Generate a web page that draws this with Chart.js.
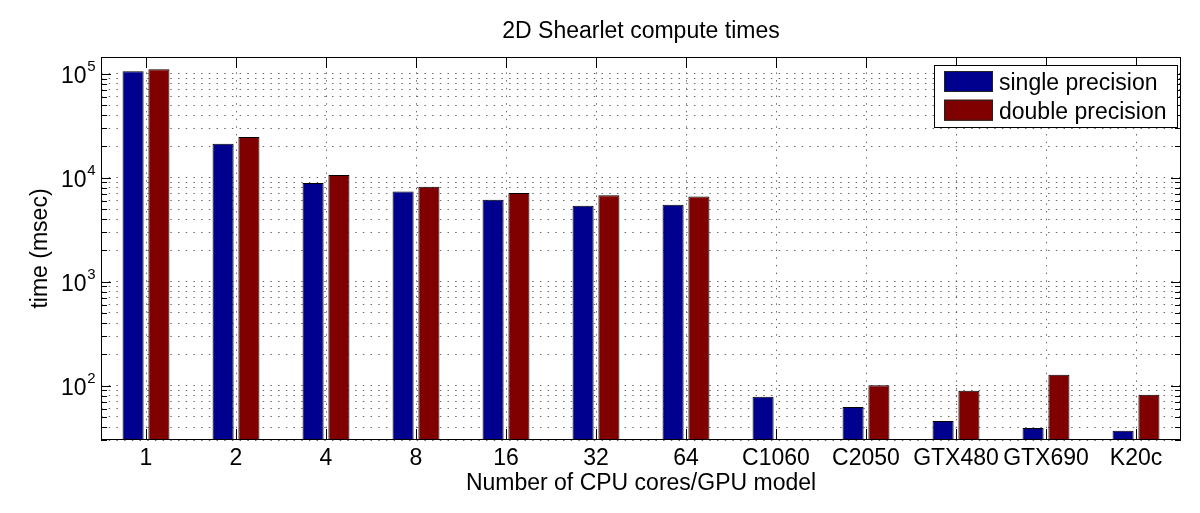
<!DOCTYPE html>
<html><head><meta charset="utf-8">
<script src="https://cdn.jsdelivr.net/npm/chart.js@4.4.1/dist/chart.umd.min.js"></script>
<style>html,body{margin:0;padding:0;background:#fff}#wrap{width:1200px;height:513px;position:relative}</style>
</head><body><div id="wrap"><canvas id="c"></canvas></div>
<script>
const categories = ['1','2','4','8','16','32','64','C1060','C2050','GTX480','GTX690','K20c'];
const singlePrecision = [106000, 21200, 8900, 7380, 6140, 5380, 5500, 78.3, 62.4, 45.7, 39.2, 36.9];
const doublePrecision = [110500, 24600, 10600, 8180, 7120, 6770, 6610, null, 100.7, 89.5, 127.6, 81.9];
const yMajorTicks = [100, 1000, 10000, 100000];
const yMinorMultipliers = [2, 3, 4, 5, 6, 7, 8, 9];
const yMin = 30, yMax = 145000;
const chartTitle = '2D Shearlet compute times';
const FONT = '"Liberation Sans", Arial, Helvetica, sans-serif';
const BLUE = '#00008f', RED = '#800000';

function buildYTicks() {
  const out = [];
  const decades = [10].concat(yMajorTicks);
  decades.forEach(d => {
    if (d >= yMin && d <= yMax) out.push({value: d, major: yMajorTicks.includes(d)});
    yMinorMultipliers.forEach(m => { const v = m * d; if (v >= yMin && v <= yMax) out.push({value: v, major: false}); });
  });
  return out.sort((a, b) => a.value - b.value);
}

const overlayPlugin = {
  id: 'overlay',
  afterDatasetsDraw(chart) {
    const {ctx, chartArea: a, scales: {x, y}} = chart;
    ctx.save();
    ctx.strokeStyle = '#000';
    ctx.lineWidth = 1;
    ctx.beginPath();
    x.ticks.forEach((t, i) => {
      const px = Math.round(x.getPixelForTick(i)) + 0.5;
      ctx.moveTo(px, a.top); ctx.lineTo(px, a.top + 11);
      ctx.moveTo(px, a.bottom); ctx.lineTo(px, a.bottom - 11);
    });
    y.ticks.forEach(t => {
      const py = Math.round(y.getPixelForValue(t.value)) + 0.5;
      const len = t.major ? 10 : 6;
      ctx.moveTo(a.left, py); ctx.lineTo(a.left + len, py);
      ctx.moveTo(a.right, py); ctx.lineTo(a.right - len, py);
    });
    ctx.stroke();
    ctx.strokeRect(Math.round(a.left) + 0.5, Math.round(a.top) + 0.5, Math.round(a.right - a.left) - 1, Math.round(a.bottom - a.top) - 1);

    // title centred over the plot area
    ctx.fillStyle = '#000';
    ctx.textAlign = 'center';
    ctx.textBaseline = 'alphabetic';
    ctx.font = '23px ' + FONT;
    ctx.fillText(chartTitle, (a.left + a.right) / 2, 38);

    // y tick labels with superscript exponents
    ctx.textAlign = 'right';
    yMajorTicks.forEach(v => {
      if (v < yMin || v > yMax) return;
      const py = y.getPixelForValue(v);
      const exp = String(Math.round(Math.log10(v)));
      const xr = a.left - 5.5;
      ctx.font = '15px ' + FONT;
      const ew = ctx.measureText(exp).width;
      ctx.fillText(exp, xr, py - 2.3);
      ctx.font = '23px ' + FONT;
      ctx.fillText('10', xr - ew - 0.5, py + 9.3);
    });

    // legend
    const lw = 243, lh = 62;
    const lx = Math.round(a.right) - 4 - lw, ly = Math.round(a.top) + 8;
    ctx.fillStyle = '#fff';
    ctx.fillRect(lx, ly, lw, lh);
    ctx.strokeStyle = '#000';
    ctx.strokeRect(lx + 0.5, ly + 0.5, lw, lh);
    ctx.font = '23px ' + FONT;
    ctx.textAlign = 'left';
    chart.data.datasets.forEach((ds, i) => {
      const ry = ly + 6 + i * 28.7;
      ctx.fillStyle = ds.backgroundColor;
      ctx.fillRect(lx + 10, ry, 49, 21);
      ctx.strokeStyle = '#222';
      ctx.strokeRect(lx + 10.5, ry + 0.5, 48, 20);
      ctx.fillStyle = '#000';
      ctx.fillText(ds.label, lx + 65, ly + 25 + i * 29);
    });
    ctx.restore();
  }
};

const dotted = [1.5, 6.2];
new Chart(document.getElementById('c'), {
  type: 'bar',
  data: {
    labels: categories,
    datasets: [
      {label: 'single precision', data: singlePrecision, backgroundColor: BLUE, borderColor: '#000', borderWidth: 1, borderSkipped: 'start'},
      {label: 'double precision', data: doublePrecision, backgroundColor: RED, borderColor: '#000', borderWidth: 1, borderSkipped: 'start'}
    ]
  },
  options: {
    responsive: true,
    maintainAspectRatio: false,
    animation: false,
    devicePixelRatio: 1,
    datasets: {bar: {categoryPercentage: 0.574, barPercentage: 0.815}},
    layout: {padding: {left: 0, right: 19, top: 57, bottom: 0}},
    plugins: {
      legend: {display: false},
      tooltip: {enabled: false},
      title: {display: false}
    },
    scales: {
      x: {
        type: 'category',
        offset: true,
        grid: {display: true, offset: false, drawTicks: false, color: '#6a6a6a', lineWidth: 1},
        border: {display: false, dash: dotted},
        ticks: {color: '#000', font: {family: FONT, size: 23}, padding: 5, maxRotation: 0, autoSkip: false},
        title: {display: true, text: 'Number of CPU cores/GPU model', color: '#000', font: {family: FONT, size: 23, lineHeight: 1.2}, padding: {top: 0, bottom: 15.5}},
        afterFit(scale) { scale.height = 73; }
      },
      y: {
        type: 'logarithmic',
        min: yMin,
        max: yMax,
        bounds: 'data',
        grid: {display: true, drawTicks: false, color: '#6a6a6a', lineWidth: 1},
        border: {display: false, dash: dotted},
        ticks: {display: false, autoSkip: false},
        title: {display: true, text: 'time (msec)', color: '#000', font: {family: FONT, size: 23, lineHeight: 1.2}, padding: {top: 27, bottom: 0}},
        afterBuildTicks(scale) { scale.ticks = buildYTicks(); },
        afterFit(scale) { scale.width = 101; }
      }
    }
  },
  plugins: [overlayPlugin]
});
</script>
</body></html>
